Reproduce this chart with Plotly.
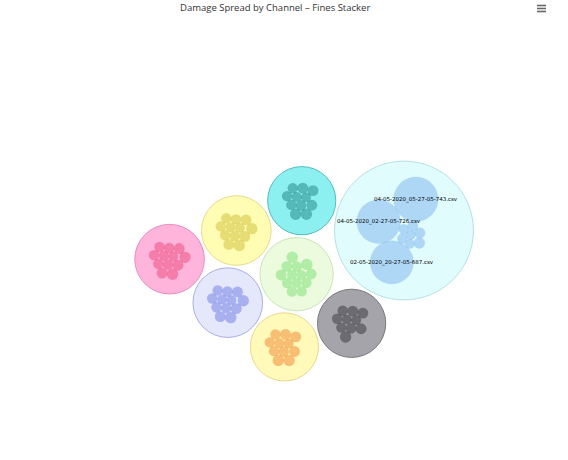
import math
import plotly.graph_objects as go

# ---------------- data ----------------
TITLE = "Damage Spread by Channel \u2013 Fines Stacker"

series_names = ["Channel 1", "Channel 2", "Channel 3", "Channel 4",
                "Channel 5", "Channel 6", "Files", "Channel 7"]

# child values per series (bubble area ~ value)
ch1_values = [1.0, 1.1, 0.9, 1.2, 1.0, 1.1, 1.0, 0.9, 1.1, 1.0, 1.2, 1.0, 0.9]
ch2_values = [1.0, 1.1, 0.9, 1.2, 1.0, 1.1, 1.0, 0.9, 1.1, 1.0, 1.2]
ch3_values = [1.0, 1.1, 0.9, 1.2, 1.0, 1.1, 1.0, 0.9, 1.1, 1.0, 1.2, 1.0]
ch4_values = [1.0, 1.1, 0.9, 1.2, 1.0, 1.1, 1.0, 0.9, 1.1, 1.0, 1.2, 1.0]
ch5_values = [1.0, 1.1, 0.9, 1.2, 1.0, 1.1, 1.0, 0.9, 1.1, 1.0, 1.2]
ch6_values = [1.0, 1.1, 0.9, 1.2, 1.0, 1.1, 1.0, 0.9, 1.1, 1.0]
files_values = [1.0, 1.1, 0.9, 1.2, 1.0, 1.1, 0.9, 18.6, 18.0, 17.6]
ch7_values = [1.0, 1.1, 0.9, 1.2, 1.0, 1.1, 1.0, 0.9, 1.1, 1.0, 1.2, 1.0]
files_labels = ["", "", "", "", "", "", "",
                "04-05-2020_05-27-05-743.csv",
                "04-05-2020_02-27-05-726.csv",
                "02-05-2020_20-27-05-687.csv"]
series_values = [ch1_values, ch2_values, ch3_values, ch4_values,
                 ch5_values, ch6_values, files_values, ch7_values]
LABELLED = 6
label_threshold = 10

# ---------------- styles ----------------
#              green      cyan       yellow     lavender   orange     gray       files      pink
parent_fill = ["#ecfade", "#8cf0f0", "#fffcb4", "#e4e8fa", "#fffab9", "#a5a4aa", "#e1fcfd", "#ffb4dc"]
parent_line = ["#c8e6b9", "#50bebe", "#e6dc8c", "#aaafe6", "#ebd78c", "#78787d", "#b4e1e6", "#eb8cbe"]
child_fill = ["rgba(130,225,120,0.55)", "rgba(30,130,130,0.5)", "rgba(200,185,40,0.45)",
              "rgba(110,120,230,0.5)", "rgba(240,140,60,0.55)", "rgba(60,60,65,0.55)",
              "rgba(140,190,240,0.6)", "rgba(235,70,120,0.5)"]
parent_order = [0, 1, 2, 3, 4, 5, 6, 7]

W, H = 568, 460
K = 5.2          # px per sqrt(value)
CHILD_GAP = -0.6
FILES_GAP = -1.0
PARENT_GAP = 3.0
PARENT_PAD = 13.5
CENTER = (284, 271)
PARENT_SEED = math.radians(-86)
PARENT_ATTRACTOR = (15 * math.cos(math.radians(175)), 15 * math.sin(math.radians(175)))
FILES_BIG_DIR = math.radians(198)


def pack(radii, gap, seed_angle, attractor=None):
    pos = []
    for i, r in enumerate(radii):
        if i == 0:
            pos.append((0.0, 0.0))
            continue
        if i == 1:
            d = radii[0] + r + gap
            pos.append((d * math.cos(seed_angle), d * math.sin(seed_angle)))
            continue
        if attractor is None:
            tx = sum(p[0] for p in pos) / len(pos)
            ty = sum(p[1] for p in pos) / len(pos)
        else:
            tx, ty = attractor
        cands = []
        for a in range(i):
            xa, ya = pos[a]
            da = radii[a] + r + gap
            for b in range(a + 1, i):
                xb, yb = pos[b]
                db = radii[b] + r + gap
                dx, dy = xb - xa, yb - ya
                d = math.hypot(dx, dy)
                if d == 0 or d > da + db or d < abs(da - db):
                    continue
                aa = (da * da - db * db + d * d) / (2 * d)
                h = math.sqrt(max(da * da - aa * aa, 0))
                mx, my = xa + aa * dx / d, ya + aa * dy / d
                cands.append((mx - h * dy / d, my + h * dx / d))
                cands.append((mx + h * dy / d, my - h * dx / d))
        best = None
        for (x, y) in cands:
            ok = all(math.hypot(x - pos[k][0], y - pos[k][1]) >= radii[k] + r + gap - 1e-6
                     for k in range(i))
            if not ok:
                continue
            key = (round(math.hypot(x - tx, y - ty), 6), -y)
            if best is None or key < best[0]:
                best = (key, (x, y))
        pos.append(best[1])
    return pos


def relax(pos, radii, gap, iters=400, pull=0.03):
    pos = [list(p) for p in pos]
    n = len(pos)
    for it in range(iters):
        cx = sum(p[0] for p in pos) / n
        cy = sum(p[1] for p in pos) / n
        for p in pos:
            p[0] += pull * (cx - p[0])
            p[1] += pull * (cy - p[1])
        for _ in range(4):
            for i in range(n):
                for j in range(i + 1, n):
                    dx = pos[j][0] - pos[i][0]
                    dy = pos[j][1] - pos[i][1]
                    d = math.hypot(dx, dy) or 1e-9
                    m = radii[i] + radii[j] + gap
                    if d < m:
                        push = (m - d) / 2
                        ux, uy = dx / d, dy / d
                        pos[i][0] -= push * ux
                        pos[i][1] -= push * uy
                        pos[j][0] += push * ux
                        pos[j][1] += push * uy
    return [tuple(p) for p in pos]


def enclose(pos, radii):
    cx = sum(p[0] for p in pos) / len(pos)
    cy = sum(p[1] for p in pos) / len(pos)
    for it in range(1, 3000):
        far, fp = -1, None
        for (x, y), r in zip(pos, radii):
            dx, dy = x - cx, y - cy
            dd = math.hypot(dx, dy)
            ux, uy = (dx / dd, dy / dd) if dd > 0 else (1, 0)
            ex, ey = x + r * ux, y + r * uy
            de = math.hypot(ex - cx, ey - cy)
            if de > far:
                far, fp = de, (ex, ey)
        cx += (fp[0] - cx) / (it + 1)
        cy += (fp[1] - cy) / (it + 1)
    R = max(math.hypot(x - cx, y - cy) + r for (x, y), r in zip(pos, radii))
    return cx, cy, R


# pack children inside each parent
groups = []
for s, vals in enumerate(series_values):
    order = sorted(range(len(vals)), key=lambda j: vals[j])
    radii = [K * math.sqrt(vals[j]) for j in order]
    if s == LABELLED:
        p = pack(radii, FILES_GAP, 0.0, None)
    else:
        p = pack(radii, CHILD_GAP, 0.0, None)
        p = relax(p, radii, CHILD_GAP)
    ex, ey, er = enclose(p, radii)
    pts = [(x - ex, y - ey) for x, y in p]
    if s == LABELLED:
        big = [k for k in range(len(order)) if vals[order[k]] >= label_threshold]
        bx = sum(pts[k][0] for k in big) / len(big)
        by = sum(pts[k][1] for k in big) / len(big)
        rot = FILES_BIG_DIR - math.atan2(by, bx)
        c, sn = math.cos(rot), math.sin(rot)
        pts = [(x * c - y * sn, x * sn + y * c) for x, y in pts]
    children = [(order[k], pts[k][0], pts[k][1], radii[k]) for k in range(len(order))]
    parent_r = er + PARENT_PAD
    groups.append((parent_r, children))

# pack parents
parent_radii = [groups[s][0] for s in parent_order]
pp = pack(parent_radii, PARENT_GAP, PARENT_SEED, PARENT_ATTRACTOR)
mx = sum(p[0] for p in pp) / len(pp)
my = sum(p[1] for p in pp) / len(pp)
ppos = [None] * len(series_values)
for k, s in enumerate(parent_order):
    ppos[s] = (pp[k][0] - mx + CENTER[0], pp[k][1] - my + CENTER[1])

shapes = []
annotations = []
for s, ((px, py), (pr, children)) in enumerate(zip(ppos, groups)):
    shapes.append(dict(type="circle", xref="x", yref="y",
                       x0=px - pr, x1=px + pr, y0=py - pr, y1=py + pr,
                       fillcolor=parent_fill[s], line=dict(color=parent_line[s], width=1),
                       layer="below"))
for s, ((px, py), (pr, children)) in enumerate(zip(ppos, groups)):
    for (j, cx, cy, cr) in children:
        x, y = px + cx, py + cy
        shapes.append(dict(type="circle", xref="x", yref="y",
                           x0=x - cr, x1=x + cr, y0=y - cr, y1=y + cr,
                           fillcolor=child_fill[s], line=dict(width=0),
                           layer="below"))
        if s == LABELLED and series_values[s][j] > label_threshold:
            annotations.append(dict(x=x, y=y, xref="x", yref="y", text=files_labels[j],
                                    showarrow=False,
                                    font=dict(size=5.5, color="#000000",
                                              family="DejaVu Sans")))

fig = go.Figure()
fig.add_trace(go.Scatter(x=[p[0] for p in ppos], y=[p[1] for p in ppos],
                         mode="markers", marker=dict(size=1, opacity=0),
                         text=series_names, hoverinfo="text", showlegend=False))

# menu icon
for yy in (5.5, 8.5, 11.5):
    shapes.append(dict(type="line", xref="x", yref="y", x0=537, x1=546, y0=yy, y1=yy,
                       line=dict(color="#666666", width=1.6)))

annotations.append(dict(x=275, y=7, xref="x", yref="y", text=TITLE, showarrow=False,
                        font=dict(size=9.5, color="#333333", family="Open Sans")))

fig.update_layout(
    width=W, height=H, margin=dict(l=0, r=0, t=0, b=0),
    paper_bgcolor="white", plot_bgcolor="white",
    xaxis=dict(range=[0, W], visible=False, fixedrange=True),
    yaxis=dict(range=[H, 0], visible=False, fixedrange=True),
    shapes=shapes, annotations=annotations, showlegend=False,
)
fig.write_html("out.html", config=dict(displayModeBar=False))
